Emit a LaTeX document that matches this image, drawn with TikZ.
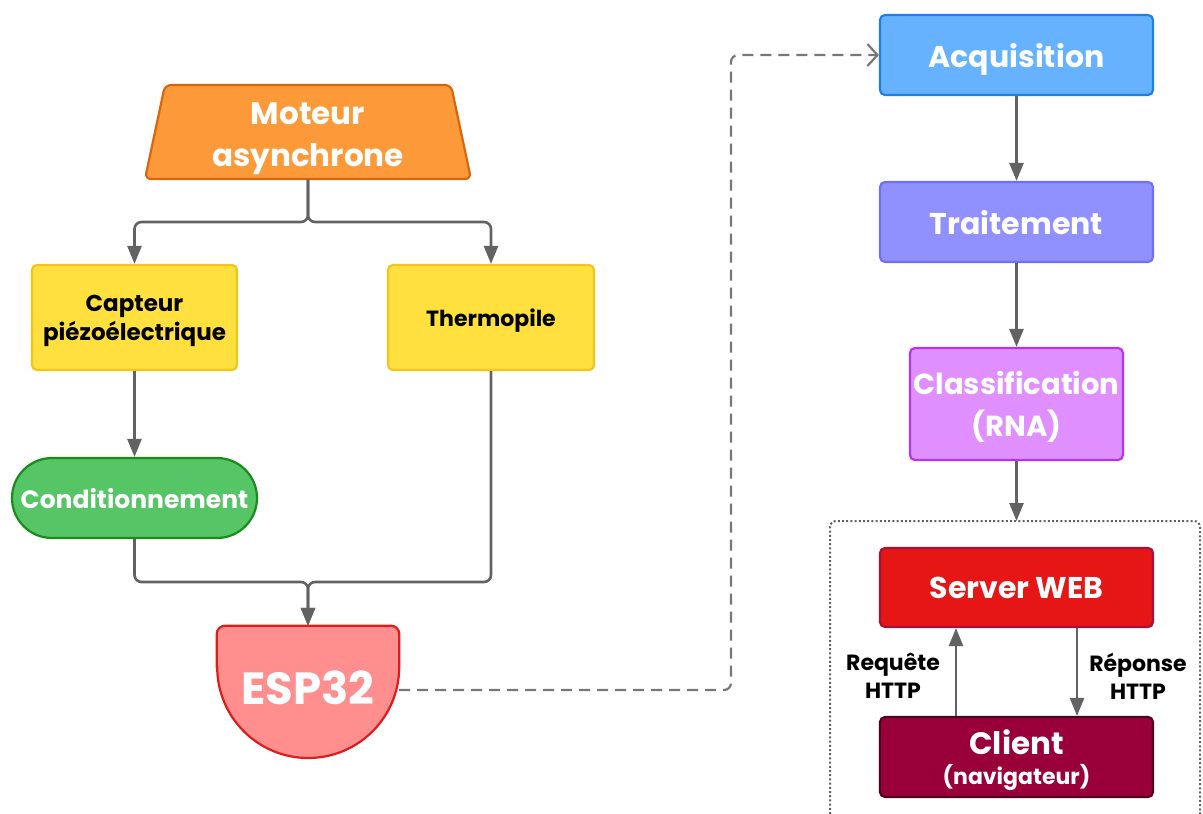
\documentclass[tikz,border=0pt]{standalone}
\usepackage{fontspec}
\setmainfont{Poppins}
\usetikzlibrary{arrows.meta}

\definecolor{motorF}{HTML}{FC9A3A}
\definecolor{motorD}{HTML}{D9650F}
\definecolor{sensorF}{HTML}{FFE03F}
\definecolor{sensorD}{HTML}{F2C51C}
\definecolor{condF}{HTML}{55C566}
\definecolor{condD}{HTML}{1B8C1B}
\definecolor{espF}{HTML}{FF8E8E}
\definecolor{espD}{HTML}{E01B1B}
\definecolor{acqF}{HTML}{66B2FF}
\definecolor{acqD}{HTML}{1F7FE6}
\definecolor{traitF}{HTML}{9090FF}
\definecolor{traitD}{HTML}{7070F0}
\definecolor{classF}{HTML}{E08FFF}
\definecolor{classD}{HTML}{B733EE}
\definecolor{serverF}{HTML}{E61616}
\definecolor{serverD}{HTML}{A3123A}
\definecolor{clientF}{HTML}{99003A}
\definecolor{clientD}{HTML}{4C0020}
\definecolor{linkgray}{HTML}{626262}
\definecolor{dashgray}{HTML}{777777}

\newcommand{\fs}[2]{\fontsize{#1}{#2}\selectfont}

\begin{document}
\begin{tikzpicture}[x=1pt,y=-1pt,
  box/.style={line width=2.2pt, rounded corners=5pt, align=center,
    inner sep=0pt, text=white, font=\bfseries, text depth=0pt},
  conn/.style={draw=linkgray, line width=2.6pt, rounded corners=7pt},
  arr/.style={conn, -{Triangle[length=18pt,width=14pt]}},
  lbl/.style={align=center, font=\bfseries\fs{22}{28}, inner sep=0pt}]
\useasboundingbox (0,0) rectangle (1203,814);

% ---- motor (trapezoid) ----
\node[minimum width=300pt, minimum height=95pt, inner sep=0pt] (motor) at (308,132) {};
\draw[fill=motorF, draw=motorD, line width=2.2pt, rounded corners=6pt]
  (145,179) -- (165,85) -- (451,85) -- (471,179) -- cycle;
\node[align=center, text=white, font=\bfseries\fs{31}{42}, inner sep=0pt]
  (motortext) at (308,139) {Moteur\\asynchrone};

% ---- sensors ----
\node[box, fill=sensorF, draw=sensorD, text=black, font=\bfseries\fs{23}{29},
  minimum width=205pt, minimum height=105pt] (capteur) at (134.5,317.5)
  {Capteur\\piézoélectrique};
\node[box, fill=sensorF, draw=sensorD, text=black, font=\bfseries\fs{22}{29},
  minimum width=206pt, minimum height=105pt] (thermo) at (491,317.5)
  {Thermopile};

% ---- conditioning (stadium) ----
\node[box, fill=condF, draw=condD, rounded corners=40pt, font=\bfseries\fs{25}{28},
  minimum width=245pt, minimum height=80pt] (cond) at (134.5,498)
  {Conditionnement};

% ---- ESP32 (half-disc) ----
\node[minimum width=182pt, minimum height=128pt, inner sep=0pt] (esp) at (308,690) {};
\draw[fill=espF, draw=espD, line width=2.2pt]
  (esp.west |- 0,667) [rounded corners=8pt] -- (esp.north west) -- (esp.north east)
  [sharp corners] -- (esp.east |- 0,667) arc[start angle=0, end angle=-180, radius=91pt] -- cycle;
\node[text=white, font=\bfseries\fs{45}{50}, inner sep=0pt] (esptext) at (308,688) {ESP32};

% ---- processing chain ----
\node[box, fill=acqF, draw=acqD, font=\bfseries\fs{30}{32},
  minimum width=273pt, minimum height=80pt] (acq) at (1016.5,55) {Acquisition};
\node[box, fill=traitF, draw=traitD, font=\bfseries\fs{30}{32},
  minimum width=273pt, minimum height=80pt] (trait) at (1016.5,222) {Traitement};
\node[box, fill=classF, draw=classD, font=\bfseries\fs{29}{42},
  minimum width=213pt, minimum height=112pt] (class) at (1016.5,404)
  {Classification\\(RNA)};

% ---- web part ----
\coordinate (webtop) at (1016.5,521);
\draw[draw=linkgray, line width=2pt, dash pattern=on 2pt off 2.2pt, rounded corners=6pt]
  (830,814) -- (830,521) -- (webtop) -- (1200,521) -- (1200,814);
\node[box, fill=serverF, draw=serverD, font=\bfseries\fs{30}{32},
  minimum width=273pt, minimum height=79pt] (server) at (1016.5,587.5) {Server WEB};
\node[box, fill=clientF, draw=clientD, minimum width=273pt, minimum height=80pt]
  (client) at (1016.5,757)
  {{\fs{31}{32}Client}\\[8pt]{\fs{22}{24}(navigateur)}};

\node[lbl] (req) at (893,676) {Requête\\HTTP};
\node[lbl] (rep) at (1138,676) {Réponse\\HTTP};

% ---- connectors ----
\coordinate (split) at (308,222);
\coordinate (merge) at (308,582);
\draw[arr] (motor.south) -- (split) -| (capteur.north);
\draw[arr] (motor.south) -- (split) -| (thermo.north);
\draw[arr] (capteur.south) -- (cond.north);
\draw[arr] (cond.south) |- (merge) -- (esp.north);
\draw[arr] (thermo.south) |- (merge) -- (esp.north);

\coordinate (bend) at (731,55);
\draw[draw=dashgray, line width=2.2pt, dash pattern=on 11pt off 7pt, rounded corners=7pt,
  -{Straight Barb[length=10pt,width=22pt,line width=2.2pt]}]
  (esp.east) -| (bend) -- (acq.west |- bend);

\draw[arr] (acq.south) -- (trait.north);
\draw[arr] (trait.south) -- (class.north);
\draw[arr] (class.south) -- (webtop);
\draw[arr] (client.north -| 956,0) -- (server.south -| 956,0);
\draw[arr] (server.south -| 1077,0) -- (client.north -| 1077,0);
\end{tikzpicture}
\end{document}
